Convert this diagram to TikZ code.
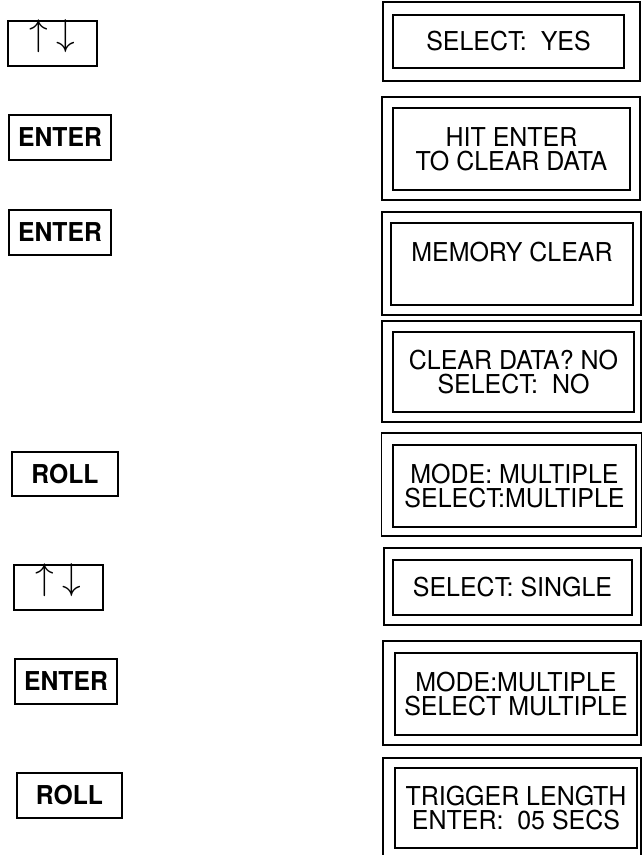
\documentclass[tikz,border=0pt]{standalone}
\usepackage{fontspec}
\setmainfont{TeX Gyre Heros}
\newfontfamily\dispfont[FakeStretch=0.96]{TeX Gyre Heros}
\newfontfamily\keyfont[FakeStretch=0.95]{TeX Gyre Heros Bold}
\begin{document}
\begin{tikzpicture}[x=1pt,y=-1pt,
  keybox/.style={draw, line width=1.8pt, inner sep=0pt, font=\keyfont\fontsize{26}{26}\selectfont},
  arrowtext/.style={inner sep=0pt, font=\Huge},
  outerbox/.style={draw, line width=1.3pt, inner sep=0pt},
  innerbox/.style={draw, line width=1.3pt, inner sep=0pt, align=center, font=\dispfont\fontsize{26}{24}\selectfont},
]
\useasboundingbox (0,0) rectangle (643,855);

% key boxes (left column)
\node[keybox, minimum width=89pt, minimum height=45pt] (k1) at (52.5,43.5) {};
\node[arrowtext] (a1) at (52.5,36.5) {\scalebox{1.5}{$\uparrow\hspace{5.5pt}\downarrow$}};
\node[keybox, minimum width=102pt, minimum height=45pt] (k2) at (60,137.5) {ENTER};
\node[keybox, minimum width=102pt, minimum height=45pt] (k3) at (60,232.5) {ENTER};
\node[keybox, minimum width=106pt, minimum height=44pt] (k4) at (65,474) {ROLL};
\node[keybox, minimum width=89pt, minimum height=45pt] (k5) at (58.5,587.5) {};
\node[arrowtext] (a2) at (58.5,580.5) {\scalebox{1.5}{$\uparrow\hspace{5.5pt}\downarrow$}};
\node[keybox, minimum width=102pt, minimum height=45pt] (k6) at (66,681.5) {ENTER};
\node[keybox, minimum width=105pt, minimum height=45pt] (k7) at (69.5,795.5) {ROLL};

% display boxes (right column)
\node[outerbox, minimum width=257pt, minimum height=79pt] (o1) at (511.5,41.5) {};
\node[innerbox, minimum width=231pt, minimum height=53pt] (d1) at (508.5,41.5) {SELECT:~ YES};

\node[outerbox, minimum width=258pt, minimum height=103pt] (o2) at (511,148.5) {};
\node[innerbox, minimum width=237pt, minimum height=82pt] (d2) at (511.5,149) {HIT ENTER\\TO CLEAR DATA};

\node[outerbox, minimum width=259pt, minimum height=103pt] (o3) at (511.5,263.5) {};
\node[innerbox, minimum width=242pt, minimum height=82pt] (d3) at (512,264) {MEMORY CLEAR\\~};

\node[outerbox, minimum width=259pt, minimum height=101pt] (o4) at (511.5,371.5) {};
\node[innerbox, minimum width=241pt, minimum height=80pt] (d4) at (513.5,372) {CLEAR DATA? NO\\SELECT:~ NO};

\node[outerbox, minimum width=260pt, minimum height=103pt] (o5) at (511.5,484.5) {};
\node[innerbox, minimum width=243pt, minimum height=82pt] (d5) at (514.5,486) {MODE: MULTIPLE\\SELECT:MULTIPLE};

\node[outerbox, minimum width=257pt, minimum height=77pt] (o6) at (512.5,586.5) {};
\node[innerbox, minimum width=239pt, minimum height=55pt] (d6) at (512.5,587.5) {SELECT: SINGLE};

\node[outerbox, minimum width=258pt, minimum height=104pt] (o7) at (512,693) {};
\node[innerbox, minimum width=242pt, minimum height=82pt] (d7) at (516,694) {MODE:MULTIPLE\\SELECT MULTIPLE};

\node[outerbox, minimum width=258pt, minimum height=112pt] (o8) at (512,814) {};
\node[innerbox, minimum width=242pt, minimum height=80pt] (d8) at (516,808) {TRIGGER LENGTH\\ENTER:~ 05 SECS};
\end{tikzpicture}
\end{document}
